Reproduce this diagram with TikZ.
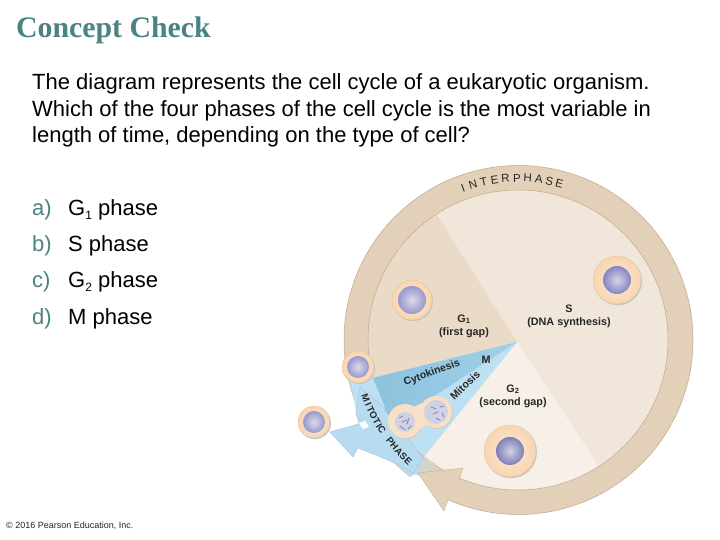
\documentclass[tikz,border=0pt]{standalone}
\usepackage{fontspec}
\setmainfont{Liberation Sans}
\newfontfamily\serifbold{Liberation Serif}[Scale=1]
\definecolor{ringtan}{HTML}{E3D0B8}
\definecolor{ringedge}{HTML}{BFA88C}
\definecolor{gone}{HTML}{E9DBC8}
\definecolor{sphase}{HTML}{F0E6D9}
\definecolor{gtwo}{HTML}{F6F0E8}
\definecolor{mlight}{HTML}{BDE1F2}
\definecolor{mdark}{HTML}{8CC2DE}
\definecolor{bandblue}{HTML}{B7DCF0}
\definecolor{peach}{HTML}{F8E0C6}
\definecolor{titleteal}{HTML}{4B8282}
\definecolor{nucl}{HTML}{8585C2}
\definecolor{chrom}{HTML}{8A80B5}
\tikzset{
 body/.style={anchor=base west,inner sep=0pt,font=\fontsize{22}{26}\selectfont,text=black},
 bulletmark/.style={body,text=titleteal},
 lab/.style={inner sep=0pt,align=center,font=\fontsize{10.8}{12}\bfseries\selectfont,text=black!85},
 arcletter/.style={inner sep=0pt,font=\fontsize{11.5}{13}\selectfont,text=black!85},
 edgeline/.style={draw=ringedge,line width=.5pt},
 squig/.style={draw=chrom,line width=.8pt,line cap=round},
}
\newcommand{\lowsub}[1]{\raisebox{-3.5pt}{\fontsize{12}{12}\selectfont #1}}
\newcommand{\cellball}[5]{% x y R r colour
 \fill[black!22] (#1+1,#2+1.2) circle[radius=#3 pt];
 \shade[inner color=peach!60!white,outer color=peach!88!orange] (#1,#2) circle[radius=#3 pt];
 \draw[draw=ringedge!70,line width=.3pt] (#1,#2) circle[radius=#3 pt];
 \shade[inner color=#5!35!white,outer color=#5] (#1,#2) circle[radius=#4 pt];
}
\begin{document}
\begin{tikzpicture}[x=1pt,y=-1pt,yshift=540pt]
\useasboundingbox (0,0) rectangle (720,540);
\fill[white] (0,0) rectangle (720,540);
% texts
\node[anchor=base west,inner sep=0pt,text=titleteal,font=\serifbold\bfseries\fontsize{29.8}{33}\selectfont] (title) at (16,38) {Concept Check};
\node[body] (l1) at (32,89.5) {The diagram represents the cell cycle of a eukaryotic organism.};
\node[body] (l2) at (32,116.5) {Which of the four phases of the cell cycle is the most variable in};
\node[body] (l3) at (32,143) {length of time, depending on the type of cell?};
\node[bulletmark] (a0) at (32,216) {a)};
\node[body] (a) at (68,216) {G\lowsub{1} phase};
\node[bulletmark] (b0) at (32,252) {b)};
\node[body] (b) at (68,252) {S phase};
\node[bulletmark] (c0) at (32,288) {c)};
\node[body] (c) at (68,288) {G\lowsub{2} phase};
\node[bulletmark] (d0) at (32,325) {d)};
\node[body] (d) at (68,325) {M phase};
\node[anchor=base west,inner sep=0pt,font=\fontsize{9}{11}\selectfont,text=black!85] (copy) at (6,529) {© 2016 Pearson Education, Inc.};
% ring
\fill[ringtan] (518.5,340) circle[radius=174.5pt];
\draw[edgeline] (518.5,340) circle[radius=174.5pt];
% left blue ring part
\begin{scope}
\clip (518.5,340) circle[radius=174.5pt];
\fill[bandblue] (340,374) -- (376,374) -- (430,470) -- (410,490) -- (340,460) -- cycle;
\end{scope}
% inner disc
\fill[sphase] (518,340) circle[radius=150pt];
\begin{scope}
\clip (518,340) circle[radius=150pt];
\fill[gone] (517,342) -- (437,215) -- (340,200) -- (340,380) -- (373,378) -- cycle;
\fill[gtwo] (517,342) -- (598,465) -- (600,510) -- (410,500) -- (423,458) -- cycle;
\fill[mlight] (517,342) -- (423,458) -- (360,420) -- (360,378) -- (373,378) -- cycle;
\shade[left color=mdark,right color=mdark!55!mlight] (517,342) -- (373,378) -- (390,425) -- cycle;
\end{scope}
\draw[edgeline] (518,340) circle[radius=150pt];
% white gap left of the returning arrow head
\fill[white] (418,473) -- (444,511) -- (420,515) -- (395,485) -- cycle;
% tan to blue blend on the ring
\shade[left color=bandblue,right color=ringtan] (410,473) -- (421,456) -- (436,464) -- (421,476) -- cycle;
% mitotic band and arrow
\fill[mlight] (350,375) -- (373,378) -- (386,410) -- (358,424) -- cycle;
\filldraw[fill=bandblue,draw=ringedge!60!blue!50!white,line width=.3pt]
  (360,387) -- (387,410) -- (384,409) -- (423,458) -- (413,473)
  .. controls (395,462) and (375,455) .. (358,448) -- (353,457) -- (330,432) -- (362,423) -- (356,415) -- cycle;
\fill[white] (359,423) -- (365,421) -- (369,427) -- (363,429) -- cycle;
% returning tan arrow head
\fill[ringtan] (418,473) -- (463,468) -- (459,480) -- (448,500) -- (444,511) -- cycle;
\draw[draw=ringedge,line width=.3pt] (459,480) -- (463,468) -- (418,473) -- (444,511) -- (448,500);
% cells
\cellball{412}{300}{20}{14}{nucl!85!white}
\cellball{617}{280}{24}{14}{nucl}
\cellball{510}{451}{26}{14}{nucl!95!black}
\cellball{358}{367}{16}{11}{nucl!85!white}
\cellball{314}{422}{16}{11}{nucl!85!white}
% dividing cell
\fill[black!20] (406,422) circle[radius=17pt];
\fill[black!20] (437,413) circle[radius=16pt];
\fill[peach] (405,421) circle[radius=17pt];
\fill[peach] (436,412) circle[radius=16pt];
\fill[peach] (415,406) -- (425,402) -- (428,424) -- (416,432) -- cycle;
\fill[black!8!nucl!35!white] (405,422) circle[radius=10pt];
\fill[black!8!nucl!35!white] (436,412) circle[radius=12pt];
\draw[squig] (399,418) -- (403,416) (402,422) -- (407,420) (407,424) -- (409,418) (400,426) -- (405,430) (408,429) -- (411,426);
\draw[squig] (431,407) -- (436,409) (433,414) -- (438,412) (440,407) -- (444,406) (436,418) -- (440,420) (442,413) -- (444,417);
% labels
\node[lab] (gonelab) at (464,326) {G\textsubscript{1}\\[1pt](first gap)};
\node[lab] (slab) at (569,316) {S\\[1pt](DNA synthesis)};
\node[lab] (gtwolab) at (513,396) {G\textsubscript{2}\\[1pt](second gap)};
\node[lab] (mlab) at (486,360) {M};
\node[lab,rotate=20,font=\fontsize{10.5}{12}\bfseries\selectfont] (cyto) at (432,373) {Cytokinesis};
\node[lab,rotate=43,font=\fontsize{10.5}{12}\bfseries\selectfont] (mito) at (465,385) {Mitosis};
% curved labels
\foreach \ch/\ang in {I/110,N/106.3,T/102.4,E/98.5,R/94.6,P/90.6,H/86.7,A/82.8,S/79,E/75.4}{
  \node[arcletter,rotate=\ang-90] at ({518.5+162*cos(\ang)},{340-162*sin(\ang)}) {\ch};
}
\foreach \ch/\ang in {M/200.8,I/203.3,T/205.3,O/207.5,T/209.8,I/211.5,C/213.3,P/218.3,H/220.6,A/223,S/225.3,E/227.6}{
  \node[arcletter,font=\fontsize{9.5}{11}\bfseries\selectfont,rotate=\ang+90] at ({518.5+163.5*cos(\ang)},{340-163.5*sin(\ang)}) {\ch};
}
\end{tikzpicture}
\end{document}
